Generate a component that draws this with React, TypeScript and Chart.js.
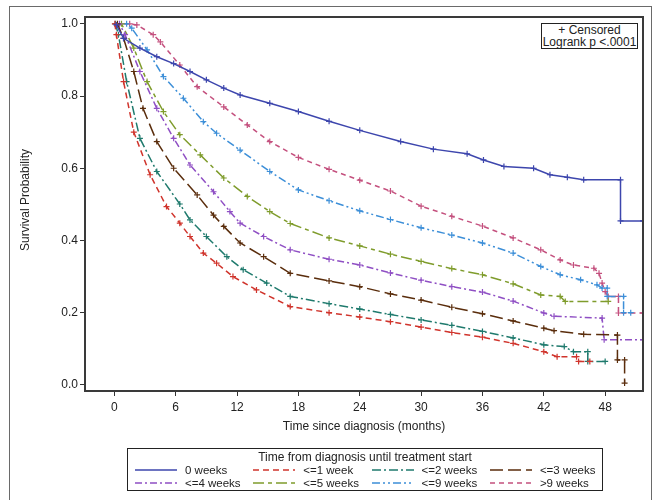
import React, { useEffect, useRef } from "react";
import { Chart, registerables } from "chart.js";
Chart.register(...registerables);

// ---- data (months, survival probability) ----
const xTicks = [0, 6, 12, 18, 24, 30, 36, 42, 48];
const yTicks = [0, 0.2, 0.4, 0.6, 0.8, 1.0];

const t0w = [0, 0.2, 0.9, 2.5, 4.15, 5.8, 7.4, 9.0, 10.7, 12.3, 15.2, 18, 21, 24, 28, 31.2, 34.5, 36.1, 38.1, 41, 42.6, 44.3, 45.9, 49.5, 49.5, 51.7];
const s0w = [1, 0.997, 0.96, 0.933, 0.909, 0.89, 0.868, 0.845, 0.822, 0.803, 0.78, 0.757, 0.73, 0.705, 0.674, 0.653, 0.64, 0.623, 0.605, 0.6, 0.582, 0.575, 0.568, 0.568, 0.454, 0.454];

const t1w = [0, 0.05, 0.2, 0.9, 1.9, 3.5, 5.1, 6.4, 7.4, 8.7, 10, 11.6, 13.9, 17.2, 21, 24, 27, 30, 33, 36, 39, 42, 43.3, 45.2, 45.4, 46.5];
const s1w = [1, 1, 0.97, 0.84, 0.7, 0.582, 0.494, 0.448, 0.411, 0.365, 0.337, 0.3, 0.263, 0.217, 0.2, 0.188, 0.175, 0.16, 0.145, 0.132, 0.115, 0.092, 0.078, 0.078, 0.065, 0.065];

const t2w = [0, 0.1, 0.4, 1.2, 2.5, 4.15, 6.4, 7.4, 9.0, 11.0, 12.6, 14.9, 17.2, 21, 24, 27, 30, 33, 36, 39, 42, 44, 44.9, 46.3, 46.3, 48.0];
const s2w = [1, 1, 0.97, 0.84, 0.683, 0.591, 0.501, 0.457, 0.411, 0.355, 0.319, 0.282, 0.245, 0.225, 0.21, 0.195, 0.18, 0.165, 0.148, 0.13, 0.111, 0.106, 0.092, 0.092, 0.065, 0.065];

const t3w = [0, 0.3, 0.9, 1.9, 2.8, 4.15, 5.8, 8.1, 9.7, 10.7, 12.3, 14.6, 17.2, 21, 24, 27, 30, 33, 36, 39, 42, 43, 45.9, 49.2, 49.2, 49.9, 49.9];
const s3w = [1, 1, 0.96, 0.868, 0.766, 0.674, 0.6, 0.526, 0.47, 0.439, 0.393, 0.355, 0.309, 0.288, 0.272, 0.252, 0.235, 0.215, 0.197, 0.177, 0.157, 0.15, 0.14, 0.138, 0.069, 0.069, 0.005];

const t4w = [0, 0.5, 1.05, 2.5, 4.15, 5.8, 7.4, 9.7, 11.3, 12.3, 14.6, 17.2, 21, 24, 27, 30, 33, 36, 39, 42, 43, 47.7, 47.9, 51.7];
const s4w = [1, 1, 0.97, 0.868, 0.766, 0.683, 0.609, 0.535, 0.48, 0.448, 0.411, 0.374, 0.348, 0.332, 0.31, 0.29, 0.272, 0.257, 0.232, 0.199, 0.19, 0.185, 0.125, 0.125];

const t5w = [0, 0.7, 1.9, 3.2, 4.8, 6.4, 8.4, 10.7, 13.0, 15.2, 17.2, 21, 24, 27, 30, 33, 36, 39, 41.7, 43.6, 44.1, 48.3];
const s5w = [1, 1, 0.933, 0.84, 0.757, 0.693, 0.637, 0.573, 0.522, 0.48, 0.447, 0.407, 0.385, 0.362, 0.342, 0.322, 0.305, 0.28, 0.249, 0.245, 0.231, 0.231];

const t9w = [0, 1.2, 1.7, 3.2, 4.8, 6.75, 8.7, 10.0, 12.3, 15.2, 18, 21, 24, 27, 30, 33, 36, 39, 41.7, 43.6, 45.6, 47.2, 47.7, 48.2, 48.2, 49.8, 49.8, 50.5];
const s9w = [1, 1, 0.988, 0.928, 0.854, 0.794, 0.729, 0.697, 0.65, 0.591, 0.54, 0.51, 0.482, 0.458, 0.435, 0.415, 0.393, 0.365, 0.328, 0.305, 0.291, 0.277, 0.268, 0.268, 0.245, 0.245, 0.2, 0.2];

const tGt9 = [0, 1.5, 2.2, 3.8, 4.5, 6.4, 8.1, 10.7, 13.0, 15.2, 18, 21, 24, 27, 30, 33, 36, 39, 41.7, 43.6, 44.9, 46.9, 47.4, 47.7, 48.0, 48.3, 49.3, 49.3, 51.7];
const sGt9 = [1, 1, 0.997, 0.97, 0.95, 0.886, 0.826, 0.77, 0.72, 0.674, 0.63, 0.597, 0.567, 0.537, 0.495, 0.467, 0.44, 0.407, 0.374, 0.346, 0.332, 0.323, 0.309, 0.282, 0.258, 0.245, 0.245, 0.199, 0.199];

const seriesNames = ["0 weeks", "<=1 week", "<=2 weeks", "<=3 weeks", "<=4 weeks", "<=5 weeks", "<=9 weeks", ">9 weeks"];
const seriesTimes = [t0w, t1w, t2w, t3w, t4w, t5w, t9w, tGt9];
const seriesSurv = [s0w, s1w, s2w, s3w, s4w, s5w, s9w, sGt9];
const seriesColors = ["#3d46ad", "#d0342c", "#1f7a6d", "#5a2d0c", "#8f4fc4", "#7f9c2c", "#3d8fd8", "#c4507e"];
const seriesDash: number[][] = [[], [6, 4], [9, 3, 2, 3], [13, 5], [7, 3, 2, 3], [11, 4, 4, 4], [8, 3, 2, 3, 2, 3], [5, 4]];

const FONT = '"Liberation Sans", Arial, Helvetica, sans-serif';

const framePlugin = {
  id: "frame",
  afterDatasetsDraw(chart: any) {
    const { ctx, chartArea } = chart;
    ctx.save();
    ctx.strokeStyle = "#3a3a3a";
    ctx.lineWidth = 2;
    ctx.strokeRect(chartArea.left, chartArea.top, chartArea.right - chartArea.left, chartArea.bottom - chartArea.top);
    ctx.restore();
  },
};

function ChartCanvas() {
  const ref = useRef<HTMLCanvasElement | null>(null);
  useEffect(() => {
    if (!ref.current) return;
    const datasets = seriesNames.map((name, i) => ({
      label: name,
      data: seriesTimes[i].map((t, j) => ({ x: t, y: seriesSurv[i][j] })),
      borderColor: seriesColors[i],
      backgroundColor: seriesColors[i],
      borderWidth: 1.5,
      borderDash: seriesDash[i],
      fill: false,
      tension: 0,
      pointStyle: "cross",
      pointRadius: (c: any) => (c.dataIndex === 0 ? 0 : 3),
      pointBorderWidth: 1.2,
      pointBorderColor: seriesColors[i],
      pointHoverRadius: 0,
    }));
    const chart = new Chart(ref.current, {
      type: "line",
      data: { datasets },
      options: {
        animation: false,
        responsive: false,
        devicePixelRatio: 1,
        layout: { padding: { top: 17, right: 12, left: 0, bottom: 0 } },
        plugins: { legend: { display: false }, tooltip: { enabled: false } },
        scales: {
          x: {
            type: "linear",
            min: -2.87,
            max: 51.7,
            border: { display: false },
            grid: { drawOnChartArea: false, drawTicks: true, tickLength: 5, color: "#333" },
            ticks: { color: "#222", font: { family: FONT, size: 12 }, padding: 4, autoSkip: false, maxRotation: 0 },
            afterBuildTicks: (s: any) => { s.ticks = xTicks.map((v) => ({ value: v })); },
            afterFit: (s: any) => { s.height = 109; },
          },
          y: {
            type: "linear",
            min: -0.017,
            max: 1.019,
            border: { display: false },
            grid: { drawOnChartArea: false, drawTicks: true, tickLength: 5, color: "#333" },
            ticks: { color: "#222", font: { family: FONT, size: 12 }, padding: 2, callback: (v: any) => Number(v).toFixed(1) },
            afterBuildTicks: (s: any) => { s.ticks = yTicks.map((v) => ({ value: v })); },
            afterFit: (s: any) => { s.width = 85; },
          },
        },
      },
      plugins: [framePlugin],
    } as any);
    return () => chart.destroy();
  }, []);
  return <canvas ref={ref} width={655} height={500} style={{ position: "absolute", left: 0, top: 0, width: 655, height: 500 }} />;
}

function LegendSample({ color, dash }: { color: string; dash: number[] }) {
  return (
    <svg width={42} height={6} style={{ display: "block" }}>
      <line x1={0} y1={3} x2={42} y2={3} stroke={color} strokeWidth={1.3} strokeDasharray={dash.length ? dash.join(" ") : undefined} />
    </svg>
  );
}

export default function App() {
  const text: React.CSSProperties = { position: "absolute", fontFamily: FONT, color: "#222", whiteSpace: "nowrap" };
  return (
    <div style={{ position: "absolute", left: 0, top: 0, width: 655, height: 500, background: "#fff", overflow: "hidden" }}>
      <ChartCanvas />
      <div style={{ position: "absolute", left: 9, top: 6, width: 643, height: 520, border: "1px solid #6a6a6a", boxSizing: "border-box" }} />
      <div style={{ ...text, left: 25, top: 200, fontSize: 12, transform: "translate(-50%, -50%) rotate(-90deg)" }}>Survival Probability</div>
      <div style={{ ...text, left: 364, top: 426, fontSize: 12, transform: "translate(-50%, -50%)" }}>Time since diagnosis (months)</div>
      <div style={{ position: "absolute", left: 541, top: 23, width: 97, height: 26, border: "1px solid #222", boxSizing: "border-box", fontFamily: FONT, fontSize: 12, lineHeight: "12px", textAlign: "center", color: "#222", background: "#fff" }}>
        <div>+ Censored</div>
        <div>Logrank p &lt;.0001</div>
      </div>
      <div style={{ position: "absolute", left: 127, top: 448, width: 476, height: 43, border: "1px solid #222", boxSizing: "border-box" }}>
        <div style={{ ...text, left: 0, width: 474, textAlign: "center", top: 2, fontSize: 12, lineHeight: "13px" }}>Time from diagnosis until treatment start</div>
        {seriesNames.map((name, i) => {
          const col = i % 4;
          const row = Math.floor(i / 4);
          const cy = row === 0 ? 21 : 34.3;
          const x0 = 7 + col * 118.3;
          return (
            <React.Fragment key={name}>
              <div style={{ position: "absolute", left: x0, top: cy - 3 }}>
                <LegendSample color={seriesColors[i]} dash={seriesDash[i]} />
              </div>
              <div style={{ ...text, left: x0 + 50, top: cy - 7, fontSize: 11.5, lineHeight: "14px" }}>{name}</div>
            </React.Fragment>
          );
        })}
      </div>
    </div>
  );
}
